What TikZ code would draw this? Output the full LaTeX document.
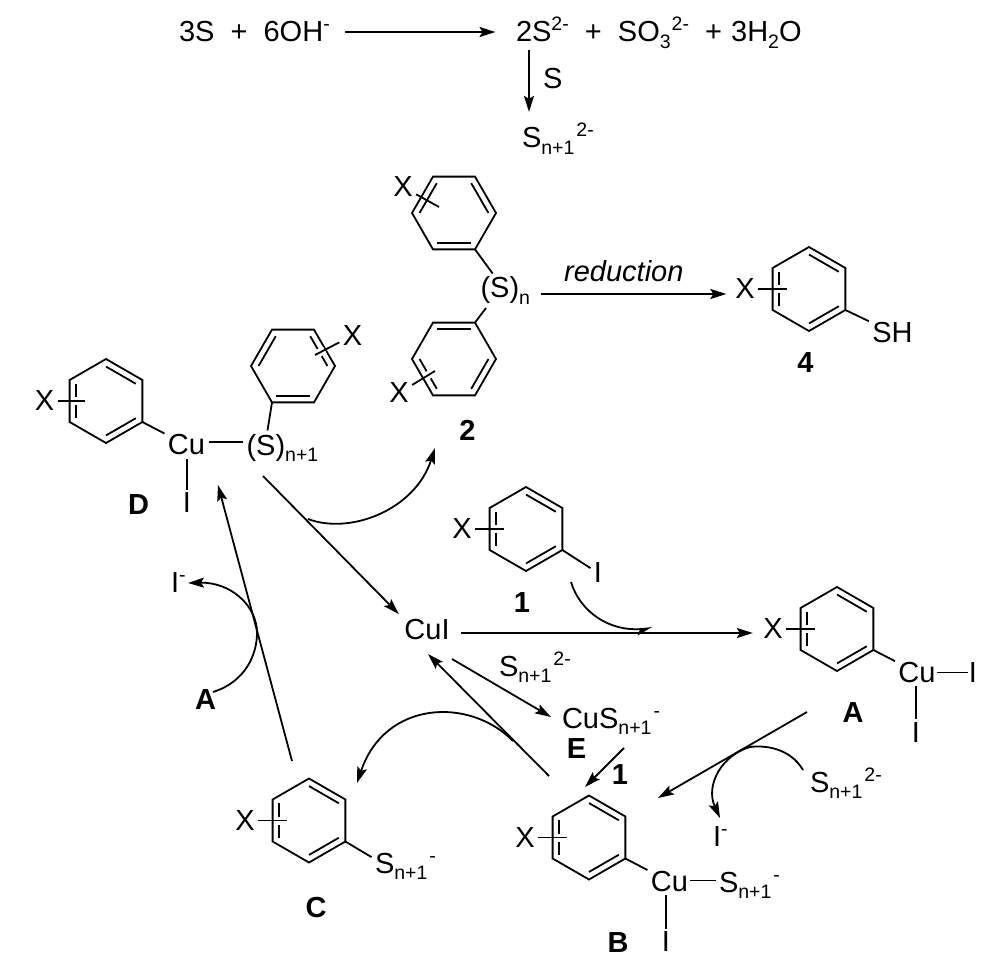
\documentclass[tikz,border=0pt]{standalone}
\usepackage{fontspec}
\setmainfont{Liberation Sans}
\usetikzlibrary{arrows.meta, calc}
\newcommand{\subt}[1]{\raisebox{-6.5pt}{\fontsize{19.5}{19.5}\selectfont #1}}
\newcommand{\supt}[1]{\raisebox{11pt}{\fontsize{19.5}{19.5}\selectfont #1}}
\newcommand{\arring}[4]{%
  \coordinate (#1) at (#2);
  \foreach \i in {1,...,6} {\coordinate (#1-\i) at ($(#1)+({#3+60*\i}:42)$);}
  \draw[bond] (#1-1) -- (#1-2) -- (#1-3) -- (#1-4) -- (#1-5) -- (#1-6) -- cycle;
  \foreach \a/\b in {#4} {\draw[bond] ($(#1)!.82!(#1-\a)$) -- ($(#1)!.82!(#1-\b)$);}
}
\newcommand{\xbond}[2]{%
  \draw[white, line width=8pt] ($(#2)!11pt!(#1)$) -- (#2);
  \draw[bond] (#1) -- (#2);
}
\begin{document}
\begin{tikzpicture}[
  x=1pt, y=-1pt,
  every node/.style={inner sep=0pt, font=\fontsize{29}{30}\selectfont},
  atom/.style={outer sep=3.5pt},
  txt/.style={atom, anchor=base west},
  lab/.style={anchor=base, font=\fontsize{29}{30}\selectfont\bfseries},
  bond/.style={line width=1.8pt},
  arr/.style={-{Stealth[length=16pt, width=10pt, inset=3pt]}, line width=1.8pt},
  hook/.style={-{Stealth[length=13pt, width=12pt, inset=3pt, harpoon, swap]}, line width=1.8pt}
]
\useasboundingbox (0,0) rectangle (998,965);

\node[txt] (eqL) at (175.5,42) {3S~~+~~6OH\supt{-}};
\node[txt] (eqR) at (512.5,42) {2S\supt{2-}~~+~~SO\subt{3}\kern1pt\supt{2-}~~+~\kern1pt3H\subt{2}O};
\node[txt] (eqS) at (539.5,89) {S};
\node[txt] (eqP) at (518.5,148) {S\subt{n+1}\kern2pt\supt{2-}};
\coordinate (eqD) at (529,50);
\draw[arr, shorten <=12pt, shorten >=17pt] (eqL.east) -- (eqL.east -| eqR.west);
\draw[arr, shorten >=8pt] (eqD) -- (eqD |- eqP.north);

\arring{rTop}{454,213}{-60}{6/1,2/3,4/5}
\arring{rBot}{454,359}{-60}{5/6,1/2,3/4}
\node[atom] (xTop) at (403,187) {X};
\node[atom] (xBot) at (399,393) {X};
\coordinate (xTopE) at (439,207);
\coordinate (xBotE) at (435,371);
\xbond{xTop}{xTopE}
\xbond{xBot}{xBotE}
\node[txt] (sTwo) at (477,298) {(S)\subt{n}};
\draw[bond] (rTop-2) -- (sTwo);
\draw[bond] (rBot-6) -- ($(sTwo.south west)+(9,0)$);
\node[lab] (lTwo) at (467.5,440) {2};

\arring{rFour}{809,289}{-90}{6/1,2/3,4/5}
\node[atom] (xFour) at (745,289) {X};
\coordinate (xFourE) at (787,289);
\xbond{xFour}{xFourE}
\node[atom] (shFour) at (892.5,332.5) {SH};
\draw[bond] (rFour-2) -- (shFour);
\node[lab] (lFour) at (805.5,372) {4};
\node[anchor=base west, font=\fontsize{29}{30}\selectfont\itshape] (red) at (564,282) {reduction};
\coordinate (redS) at (541,294);
\draw[arr, shorten >=5.5pt] (redS) -- (redS -| xFour.west);

\arring{rDa}{106,401}{-90}{6/1,2/3,4/5}
\arring{rDb}{293,366}{-60}{6/1,2/3,4/5}
\node[atom] (xDa) at (44.5,401) {X};
\node[atom] (xDb) at (352.5,335.5) {X};
\coordinate (xDaE) at (85,401);
\coordinate (xDbE) at (315,355);
\xbond{xDa}{xDaE}
\xbond{xDb}{xDbE}
\node[atom] (cuD) at (186.5,445) {Cu};
\node[txt] (sD) at (243,455) {(S)\subt{n+1}};
\node[atom] (iD) at (187,503) {I};
\draw[bond] (rDa-2) -- (cuD);
\draw[bond] ([yshift=3pt]cuD.east) -- ([yshift=3pt]cuD.east -| sD.west);
\draw[bond] (iD |- cuD.south) -- (iD);
\draw[bond] (rDb-3) -- ($(sD.north west)+(24.5,0)$);
\node[lab] (lD) at (138.5,514) {D};

\arring{rOne}{526,529}{-90}{6/1,2/3,4/5}
\node[atom] (xOne) at (462,529) {X};
\coordinate (xOneE) at (504,529);
\xbond{xOne}{xOneE}
\node[atom] (iOne) at (598,573) {I};
\draw[bond] (rOne-2) -- (iOne);
\node[lab] (lOne) at (522,612) {1};

\arring{rA}{837,629}{-90}{6/1,2/3,4/5}
\node[atom] (xA) at (773,629) {X};
\coordinate (xAE) at (815,629);
\xbond{xA}{xAE}
\node[atom] (cuA) at (917,672.5) {Cu};
\node[atom] (iAr) at (973,672.5) {I};
\node[atom] (iAd) at (916,732.5) {I};
\draw[bond] (rA-2) -- (cuA);
\draw[bond, shorten <=-2pt, shorten >=-3pt] (cuA) -- (iAr);
\draw[bond] (iAd |- cuA.south) -- (iAd);
\node[lab] (lA) at (853,722) {A};

\arring{rB}{589,837.5}{-90}{6/1,2/3,4/5}
\node[atom] (xB) at (525,837.5) {X};
\coordinate (xBE) at (567,837.5);
\xbond{xB}{xBE}
\node[atom] (cuB) at (669.5,881.5) {Cu};
\node[txt] (sB) at (715.5,892) {S\subt{n+1}\kern2pt\supt{-}};
\node[atom] (iB) at (666,942) {I};
\draw[bond] (rB-2) -- (cuB);
\draw[bond, shorten <=-2pt] ([yshift=1pt]cuB.east) -- ([yshift=1pt]cuB.east -| sB.west);
\draw[bond] (iB |- cuB.south) -- (iB);
\node[lab] (lB) at (618,952) {B};

\arring{rC}{309,820.5}{-90}{6/1,2/3,4/5}
\node[atom] (xC) at (245,820.5) {X};
\coordinate (xCE) at (287,820.5);
\xbond{xC}{xCE}
\node[txt] (sC) at (371.5,873) {S\subt{n+1}\kern2pt\supt{-}};
\draw[bond] (rC-2) -- ([yshift=9pt]sC.west);
\node[lab] (lC) at (316,917.5) {C};

\node[atom] (cuI) at (427,630) {CuI};
\node[txt] (cuE) at (558.5,728) {CuS\subt{n+1}\kern2pt\supt{-}};
\node[lab] (lE) at (576.5,758) {E};
\node[txt] (sCu) at (495.5,676) {S\subt{n+1}\kern2pt\supt{2-}};
\node[lab] (lOneB) at (620,784) {1};
\node[txt] (sA) at (806.5,792) {S\subt{n+1}\kern2pt\supt{2-}};
\node[txt] (iMa) at (709.5,846) {I\supt{-}};
\node[txt] (iMb) at (167.5,592) {I\supt{-}};
\node[lab] (lAb) at (205.5,709) {A};

\coordinate (dS) at (263,476);
\coordinate (bS) at (549,776);
\coordinate (bE) at (428,654);
\coordinate (cS) at (292,761);
\coordinate (cE) at (218,485);
\coordinate (eS) at (452,659);
\coordinate (eE) at (551,717);
\coordinate (fS) at (624,748);
\coordinate (fE) at (585,787);
\coordinate (aS) at (807,712);
\coordinate (aE) at (658,798);
\draw[arr, shorten >=3pt] (dS) -- (cuI.north west);
\draw[arr] (bS) -- (bE);
\draw[arr] (cS) -- (cE);
\draw[arr] (eS) -- (eE);
\draw[arr] (fS) -- (fE);
\draw[arr] (aS) -- (aE);
\draw[arr, shorten <=8pt, shorten >=7pt] ([yshift=-3pt]cuI.east) -- ([yshift=-3pt]cuI.east -| xA.west);

\coordinate (twoS) at (308,519);
\coordinate (twoE) at (435,448);
\coordinate (oneS) at (571,582);
\coordinate (oneE) at (652,628);
\coordinate (cvS) at (513,741);
\coordinate (cvE) at (357,783);
\coordinate (iaS) at (213,692);
\coordinate (iaM) at (257,633);
\coordinate (iaE) at (188,583);
\coordinate (ibS) at (803,770);
\coordinate (ibM) at (750,747);
\coordinate (ibE) at (720,818);
\draw[arr] (twoS) .. controls (350,535) and (415,510) .. (twoE);
\draw[hook] (oneS) .. controls (580,612) and (610,632) .. (oneE);
\draw[arr] (cvS) .. controls (470,697) and (385,700) .. (cvE);
\draw[arr] (iaS) .. controls (245,682) and (257,655) .. (iaM) .. controls (257,605) and (230,582) .. (iaE);
\draw[arr] (ibS) .. controls (790,748) and (765,745) .. (ibM) .. controls (722,755) and (705,785) .. (ibE);
\end{tikzpicture}
\end{document}
